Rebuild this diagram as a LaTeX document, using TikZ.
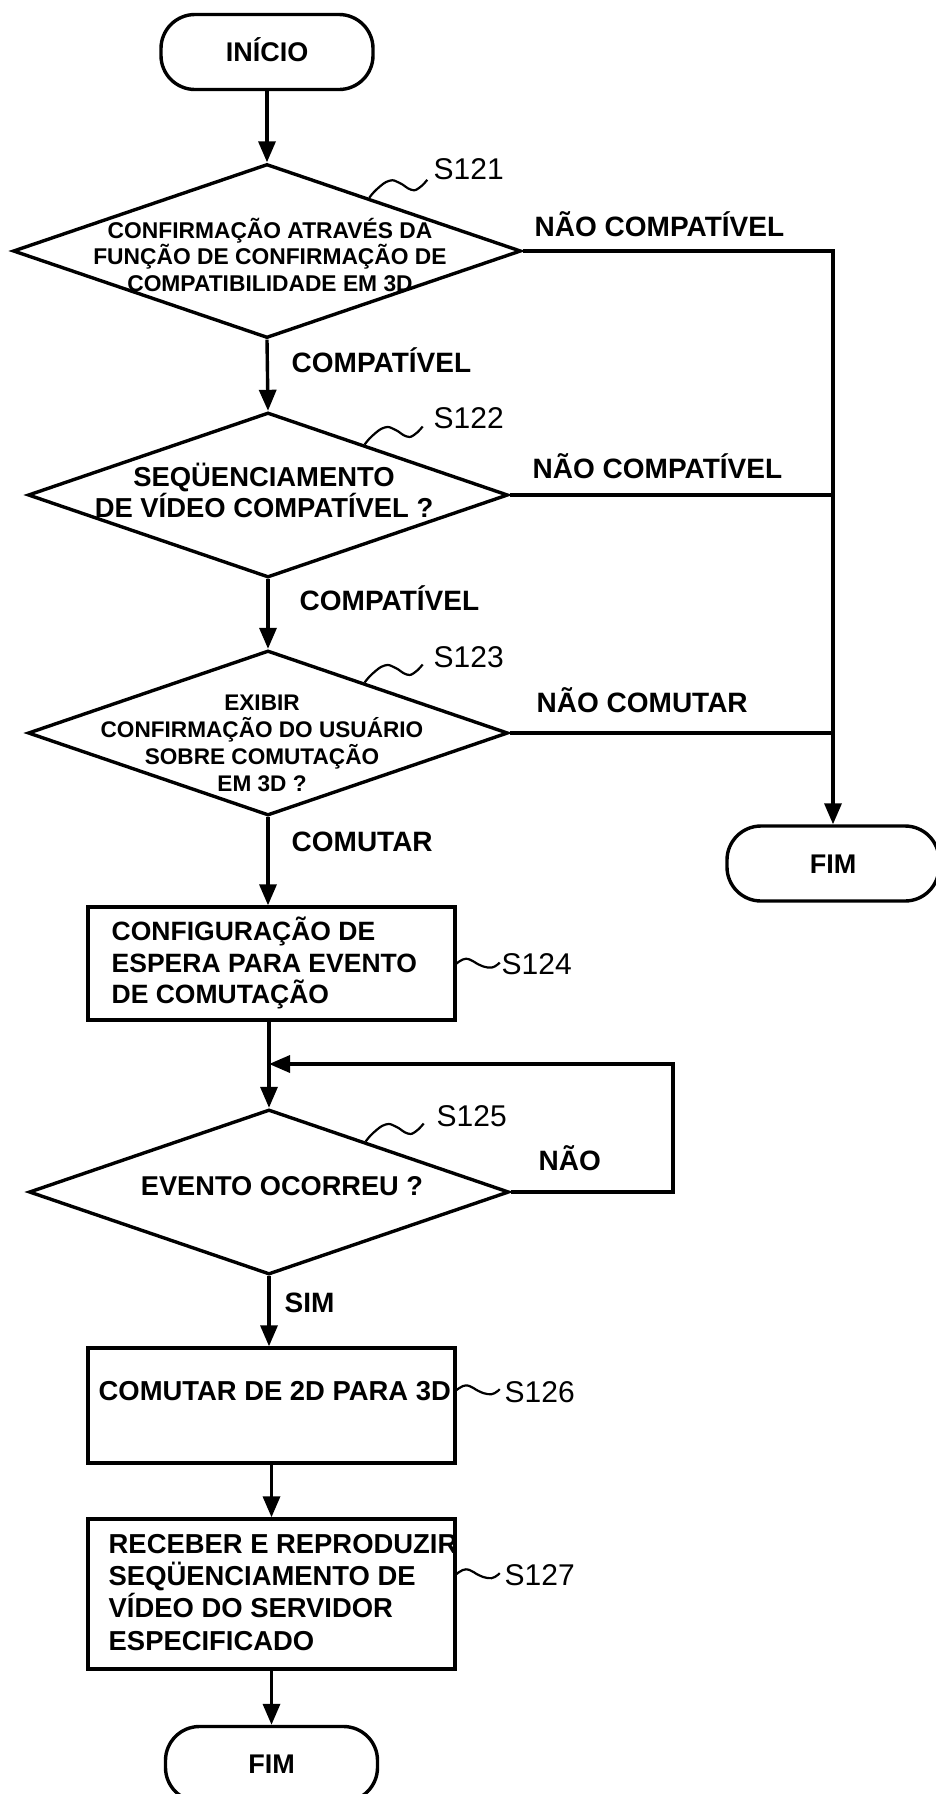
\documentclass[tikz,border=0pt]{standalone}
\usepackage{fontspec}
\setmainfont{Liberation Sans}
\usetikzlibrary{arrows.meta,shapes.geometric,calc}
\newcommand\setsz[2]{\fontsize{#1}{#2}\selectfont}

\begin{document}
\begin{tikzpicture}[x=0.5pt,y=-0.5pt,
  line width=1.7pt,
  arr/.style={-{Triangle[length=10.5pt,width=8.5pt]}},
  term/.style={draw, rounded corners=17pt, minimum width=106pt, minimum height=37.5pt,
    inner sep=0pt, font=\bfseries\setsz{13.5pt}{16pt}, text height=9.7pt, text depth=0pt},
  decision/.style={draw, diamond, inner sep=0pt, minimum width=240pt, minimum height=82.5pt},
  stepbox/.style={draw, rectangle, inner sep=0pt, minimum width=183.5pt},
  btext/.style={inner sep=0pt, anchor=base west, align=left, font=\bfseries\setsz{13.7pt}{16pt}},
  dtext/.style={inner sep=0pt, anchor=base, align=center},
  lbl/.style={inner sep=0pt, anchor=base west, font=\bfseries\setsz{14pt}{16pt}},
  steplbl/.style={inner sep=0pt, anchor=base west, font=\setsz{15pt}{17pt}},
  lead/.style={line width=1.1pt}
]
\useasboundingbox (0,0) rectangle (936,1794);
\fill[white] (0,0) rectangle (936,1794);
\clip (0,0) rectangle (936,1794);

% shapes
\node[term] (start) at (267,52) {INÍCIO};
\node[decision, minimum width=254pt, minimum height=87pt] (d1) at (267,251) {};
\node[decision] (d2) at (268,495) {};
\node[decision] (d3) at (268,733) {};
\node[stepbox, minimum height=56.5pt] (b1) at (271.5,963.5) {};
\node[decision] (d4) at (269,1192) {};
\node[stepbox, minimum height=57.5pt] (b2) at (271.5,1405.5) {};
\node[stepbox, minimum height=75pt] (b3) at (271.5,1594) {};
\node[term] (end1) at (833,863.5) {FIM};
\node[term] (end2) at (271.5,1764) {FIM};

% texts inside the shapes (placed by the baseline of their last line)
\node[dtext, font=\bfseries\setsz{11.4pt}{13.25pt}] (t1) at (270,291)
  {CONFIRMAÇÃO ATRAVÉS DA\\FUNÇÃO DE CONFIRMAÇÃO DE\\COMPATIBILIDADE EM 3D};
\node[dtext, font=\bfseries\setsz{13.7pt}{15.5pt}] (t2) at (264,517)
  {SEQÜENCIAMENTO\\DE VÍDEO COMPATÍVEL ?};
\node[dtext, font=\bfseries\setsz{11.3pt}{13.5pt}] (t3) at (262,791)
  {EXIBIR\\CONFIRMAÇÃO DO USUÁRIO\\SOBRE COMUTAÇÃO\\EM 3D ?};
\node[dtext, font=\bfseries\setsz{13.6pt}{16pt}] (t4) at (282,1195) {EVENTO OCORREU ?};
\node[btext, font=\bfseries\setsz{13.25pt}{15.75pt}] (t5) at (110,1003.5)
  {CONFIGURAÇÃO DE\\ESPERA PARA EVENTO\\DE COMUTAÇÃO};
\node[btext] (t6) at (97,1400) {COMUTAR DE 2D PARA 3D};
\node[btext, font=\bfseries\setsz{13.7pt}{16.15pt}] (t7) at (107,1650)
  {RECEBER E REPRODUZIR\\SEQÜENCIAMENTO DE\\VÍDEO DO SERVIDOR\\ESPECIFICADO};

% branch labels
\node[lbl] (n1) at (533,236) {NÃO COMPATÍVEL};
\node[lbl] (n2) at (531,478) {NÃO COMPATÍVEL};
\node[lbl] (n3) at (535,712) {NÃO COMUTAR};
\node[lbl] (c1) at (290,372) {COMPATÍVEL};
\node[lbl] (c2) at (298,610) {COMPATÍVEL};
\node[lbl] (c3) at (290,851) {COMUTAR};
\node[lbl] (n4) at (537,1170) {NÃO};
\node[lbl] (y4) at (283,1312) {SIM};

% step numbers
\node[steplbl] (s121) at (432,179) {S121};
\node[steplbl] (s122) at (432,428) {S122};
\node[steplbl] (s123) at (432,667) {S123};
\node[steplbl] (s124) at (500,974) {S124};
\node[steplbl] (s125) at (435,1126) {S125};
\node[steplbl] (s126) at (503,1402) {S126};
\node[steplbl] (s127) at (503,1585) {S127};

% leaders from the shapes to the step numbers
\foreach \d in {d1,d2,d3,d4}{
  \draw[lead, shift={($(\d.north)!0.4!(\d.east)$)}] plot[smooth, tension=0.8]
    coordinates {(0,0) (8,-9) (20,-17) (30,-15) (42,-8) (50,-10) (58,-18)};
}
\draw[lead, shift={(b1.east)}] plot[smooth, tension=0.8]
  coordinates {(0,0) (6,-4) (13,-4) (22,1) (31,4) (38,3) (43,-1)};
\draw[lead, shift={($(b2.north east)!0.37!(b2.south east)$)}] plot[smooth, tension=0.8]
  coordinates {(0,0) (6,-4) (13,-4) (22,1) (31,4) (38,3) (43,-1)};
\draw[lead, shift={($(b3.north east)!0.37!(b3.south east)$)}] plot[smooth, tension=0.8]
  coordinates {(0,0) (6,-4) (13,-4) (22,1) (31,4) (38,3) (43,-1)};

% main flow
\draw[arr] (start.south) -- (d1.north);
\draw[arr] (d1.south) -- (d2.north);
\draw[arr] (d2.south) -- (d3.north);
\draw[arr] (d3.south) -- (d3.south |- b1.north);
\draw[arr] (b1.south -| d4.north) -- (d4.north);
\draw[arr] (d4.south) -- (d4.south |- b2.north);
\draw[arr] (b2.south) -- (b3.north);
\draw[arr] (b3.south) -- (end2.north);

% waiting loop
\coordinate (join) at (269,1064);
\coordinate (loopr) at (673,1064);
\draw[arr] (d4.east) -| (loopr) -- (join);

% exits to the right-hand end
\draw[arr] (d1.east) -| (end1.north);
\draw (d2.east) -- (d2.east -| end1.north);
\draw (d3.east) -- (d3.east -| end1.north);
\end{tikzpicture}
\end{document}
